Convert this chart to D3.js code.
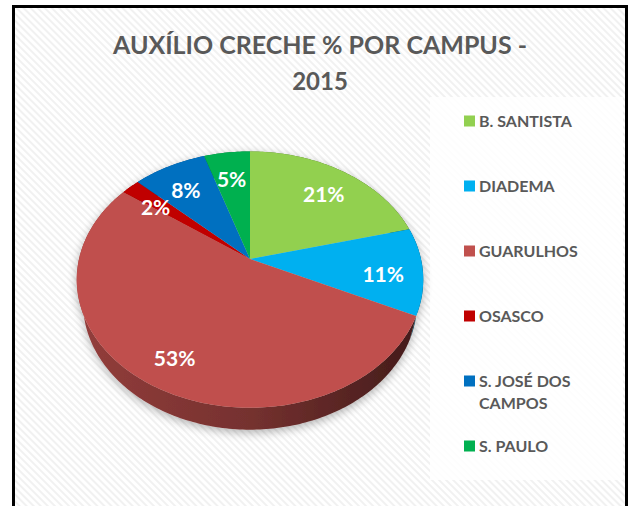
<!DOCTYPE html>
<html>
<head>
<meta charset="utf-8">
<script src="https://cdn.jsdelivr.net/npm/d3@7/dist/d3.min.js"></script>
<style>
html,body{margin:0;padding:0;background:#fff;}
svg{display:block;}
</style>
</head>
<body>
<svg id="chart" width="633" height="506"></svg>
<script>
// ---- data ----
const categories = ["B. SANTISTA", "DIADEMA", "GUARULHOS", "OSASCO", "S. JOSÉ DOS CAMPOS", "S. PAULO"];
const values = [21, 11, 53, 2, 8, 5];
const legendLines = [["B. SANTISTA"], ["DIADEMA"], ["GUARULHOS"], ["OSASCO"], ["S. JOSÉ DOS", "CAMPOS"], ["S. PAULO"]];
const titleLines = ["AUXÍLIO CRECHE % POR CAMPUS -", "2015"];
const palette = ["#92D050", "#00B0F0", "#C0504D", "#C00000", "#0070C0", "#00B050"];

// ---- layout ----
const svg = d3.select("#chart");
const defs = svg.append("defs");

// striped background
const pat = defs.append("pattern").attr("id", "stripes")
  .attr("patternUnits", "userSpaceOnUse").attr("width", 5).attr("height", 5)
  .attr("patternTransform", "rotate(-45)");
pat.append("rect").attr("width", 5).attr("height", 5).attr("fill", "#ffffff");
pat.append("rect").attr("width", 2).attr("height", 5).attr("fill", "#f1f1f1");

svg.append("rect").attr("x", 13.5).attr("y", 6.5).attr("width", 613).attr("height", 530)
  .attr("fill", "url(#stripes)").attr("stroke", "#000").attr("stroke-width", 3);

// title
const title = svg.append("text").attr("text-anchor", "middle")
  .attr("font-family", "Lato, 'Open Sans', sans-serif").attr("font-weight", 700)
  .attr("font-size", 24).attr("fill", "#595959");
titleLines.forEach((t, i) => {
  const ts = title.append("tspan").attr("x", 320).attr("y", 54 + i * 36).text(t);
  if (i === 0) ts.attr("textLength", 414).attr("lengthAdjust", "spacingAndGlyphs");
});

// legend box
svg.append("rect").attr("x", 430).attr("y", 97).attr("width", 193).attr("height", 383)
  .attr("fill", "#ffffff").attr("fill-opacity", 0.85);

const color = d3.scaleOrdinal().domain(categories).range(palette);
const legendY = d3.scalePoint().domain(categories).range([121, 446]);

const lg = svg.append("g");
categories.forEach((c, i) => {
  const y = legendY(c);
  lg.append("rect").attr("x", 464).attr("y", y - 5.5).attr("width", 11).attr("height", 11)
    .attr("fill", color(c));
  const t = lg.append("text").attr("font-family", "Lato, 'Open Sans', sans-serif")
    .attr("font-weight", 700).attr("font-size", 16).attr("fill", "#595959");
  legendLines[i].forEach((ln, j) => {
    t.append("tspan").attr("x", 479).attr("y", y + 6 + j * 22).text(ln);
  });
});

// ---- 3D pie with perspective ----
const cx = 250, cy = 259, R = 171;
const sinP = 0.73, cosP = Math.sqrt(1 - sinP * sinP), Dcam = 4.25, depth = 0.21;
function proj(r, a, yw) {
  const x = r * Math.sin(a), zg = -r * Math.cos(a);
  const u = yw * cosP - zg * sinP;
  const d = zg * cosP + yw * sinP;
  const s = Dcam / (Dcam - d);
  return [cx + R * x * s, cy - R * u * s];
}
function arcPts(a0, a1, yw) {
  const n = Math.max(2, Math.ceil((a1 - a0) / (Math.PI / 180)));
  return d3.range(n + 1).map(k => proj(1, a0 + (a1 - a0) * k / n, yw));
}

const pie = d3.pie().sort(null).value(d => d).startAngle(0).endAngle(2 * Math.PI);
const arcs = pie(values);
const line = d3.line();

// shadow filter
const f = defs.append("filter").attr("id", "shadow").attr("x", "-20%").attr("y", "-20%")
  .attr("width", "140%").attr("height", "140%");
f.append("feGaussianBlur").attr("in", "SourceAlpha").attr("stdDeviation", 5);
f.append("feOffset").attr("dx", 0).attr("dy", 3).attr("result", "b");
f.append("feComponentTransfer").append("feFuncA").attr("type", "linear").attr("slope", 0.3);
const fm = f.append("feMerge");
fm.append("feMergeNode");
fm.append("feMergeNode").attr("in", "SourceGraphic");

const pieG = svg.append("g").attr("filter", "url(#shadow)");

// side walls (gradient per slice)
arcs.forEach((a, i) => {
  const c = palette[i];
  const gid = "wall" + i;
  const g = defs.append("linearGradient").attr("id", gid)
    .attr("gradientUnits", "userSpaceOnUse")
    .attr("x1", cx - R).attr("y1", 0).attr("x2", cx + R).attr("y2", 0);
  g.append("stop").attr("offset", 0).attr("stop-color", d3.color(c).darker(0.75));
  g.append("stop").attr("offset", 0.5).attr("stop-color", d3.color(c).darker(1.4));
  g.append("stop").attr("offset", 1).attr("stop-color", d3.color(c).darker(3));
  const top = arcPts(a.startAngle, a.endAngle, 0);
  const bot = arcPts(a.startAngle, a.endAngle, -depth).reverse();
  pieG.append("path").attr("d", line(top.concat(bot)) + "Z").attr("fill", `url(#${gid})`);
});

// top faces
arcs.forEach((a, i) => {
  const pts = [proj(0, 0, 0)].concat(arcPts(a.startAngle, a.endAngle, 0));
  pieG.append("path").attr("d", line(pts) + "Z").attr("fill", palette[i]);
});

// labels
arcs.forEach((a, i) => {
  const mid = (a.startAngle + a.endAngle) / 2;
  const p = proj(0.78, mid, -0.05);
  svg.append("text").attr("x", p[0]).attr("y", p[1]).attr("dy", "0.36em")
    .attr("text-anchor", "middle")
    .attr("font-family", "Lato, 'Open Sans', sans-serif").attr("font-weight", 700)
    .attr("font-size", 21).attr("fill", "#ffffff")
    .text(values[i] + "%");
});
</script>
</body>
</html>
